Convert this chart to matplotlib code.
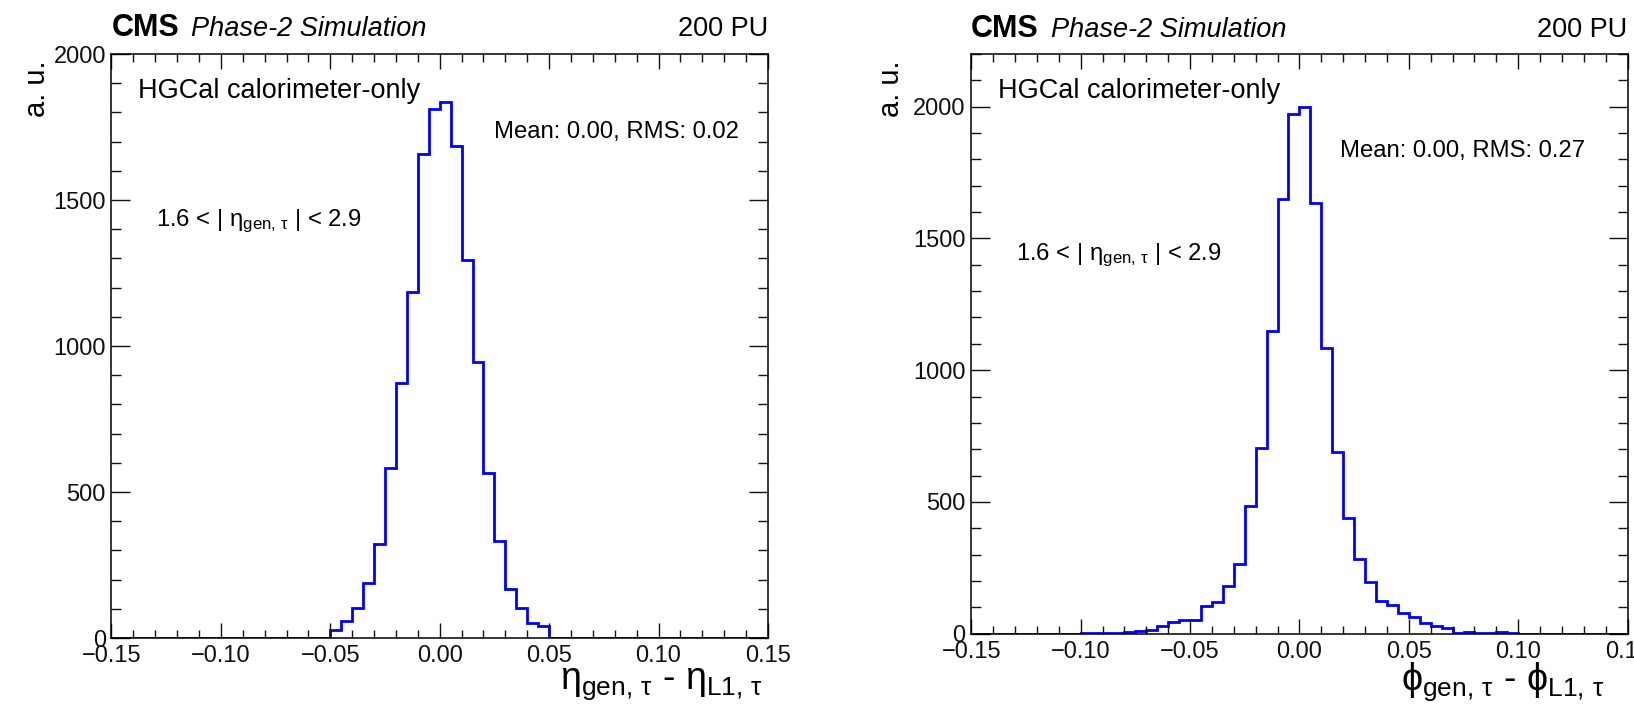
import numpy as np
import matplotlib
matplotlib.use("Agg")
import matplotlib.pyplot as plt
from matplotlib.ticker import MultipleLocator

# 60 bins of 0.005 from -0.15 to 0.15
bin_lo, bin_hi, bin_w = -0.15, 0.15, 0.005

# eta residual, 1.6 < |eta| < 2.9
eta_counts = [
    0, 0, 0, 0, 0, 0, 0, 0, 0, 0,
    0, 0, 0, 0, 0, 0, 0, 0, 0, 0,
    26, 58, 102, 188, 322, 582, 872, 1186, 1658, 1812,
    1836, 1686, 1296, 945, 566, 332, 168, 102, 52, 40,
    0, 0, 0, 0, 0, 0, 0, 0, 0, 0,
    0, 0, 0, 0, 0, 0, 0, 0, 0, 0,
]

# phi residual
phi_counts = [
    0, 0, 0, 0, 0, 0, 0, 0, 0, 0,
    1, 3, 3, 4, 5, 8, 13, 28, 45, 50,
    52, 106, 119, 179, 263, 485, 705, 1150, 1648, 1972,
    1998, 1635, 1084, 689, 438, 285, 195, 124, 109, 77,
    62, 42, 28, 23, 2, 7, 3, 3, 5, 1,
    0, 0, 0, 0, 0, 0, 0, 0, 0, 0,
]

x_ticks = [-0.15, -0.10, -0.05, 0.00, 0.05, 0.10, 0.15]
stats_text = ["Mean: 0.00, RMS: 0.02", "Mean: 0.00, RMS: 0.27"]
y_max = [2000, 2200]

plt.rcParams["font.family"] = ["Liberation Sans", "DejaVu Sans"]
plt.rcParams["mathtext.fontset"] = "custom"
plt.rcParams["mathtext.rm"] = "Liberation Sans"
plt.rcParams["mathtext.it"] = "Liberation Sans:italic"
plt.rcParams["mathtext.bf"] = "Liberation Sans:bold"

fig = plt.figure(figsize=(16.34, 7.05), dpi=100)
ax_eta = fig.add_axes([0.0682, 0.0950, 0.4018, 0.8284])
ax_phi = fig.add_axes([0.5944, 0.1013, 0.4017, 0.8220])

edges = np.arange(bin_lo, bin_hi + bin_w / 2, bin_w)

panels = [
    (ax_eta, eta_counts, "η", 0.583, 0.866, 0.714, 0.992, -0.0875, -0.114),
    (ax_phi, phi_counts, "ϕ", 0.562, 0.833, 0.653, 0.965, -0.0965, -0.122),
]

for i, (ax, counts, sym, mx, my, ry, lx, ly, ax_y) in enumerate(panels):
    ax.stairs(counts, edges, color="#0000ff", lw=2.0)
    ax.set_xlim(bin_lo, bin_hi)
    ax.set_ylim(0, y_max[i])

    ax.set_xticks(x_ticks)
    ax.set_xticklabels([f"{t:.2f}".replace("-", "\u2212") for t in x_ticks])
    ax.xaxis.set_minor_locator(MultipleLocator(0.01))
    ax.yaxis.set_major_locator(MultipleLocator(500))
    ax.yaxis.set_minor_locator(MultipleLocator(100))
    ax.tick_params(which="both", direction="in", top=True, right=True,
                   labelsize=17, colors="#111111", width=1.0)
    ax.tick_params(axis="x", which="major", length=11, pad=5)
    ax.tick_params(axis="x", which="minor", length=5.5)
    ax.tick_params(axis="y", which="major", length=14, pad=4)
    ax.tick_params(axis="y", which="minor", length=7)
    for sp in ax.spines.values():
        sp.set_linewidth(1.1)

    # header
    ax.text(0.0, 1.03, "CMS", transform=ax.transAxes, fontsize=22,
            fontweight="bold", ha="left", va="baseline")
    ax.text(0.121, 1.03, "Phase-2 Simulation", transform=ax.transAxes,
            fontsize=19.5, style="italic", ha="left", va="baseline")
    ax.text(1.0, 1.03, "200 PU", transform=ax.transAxes, fontsize=19.5,
            ha="right", va="baseline")

    ax.text(0.041, 0.937, "HGCal calorimeter-only", transform=ax.transAxes,
            fontsize=19.5, ha="left", va="center")
    ax.text(mx, my, stats_text[i], transform=ax.transAxes, fontsize=17.2,
            ha="left", va="center")
    ax.text(0.068, ry, r"1.6 < | η$_{\mathrm{gen,\,τ}}$ | < 2.9",
            transform=ax.transAxes, fontsize=17.2, ha="left", va="center")

    ax.text(lx, ly, sym + r"$_{\mathrm{gen,\,τ}}$ - " + sym + r"$_{\mathrm{L1,\,τ}}$",
            transform=ax.transAxes, fontsize=27, ha="right", va="baseline")
    ax.text(ax_y, 0.989, "a. u.", transform=ax.transAxes, fontsize=21,
            rotation=90, ha="center", va="top")

fig.savefig("out.png", dpi=100, facecolor="white")
